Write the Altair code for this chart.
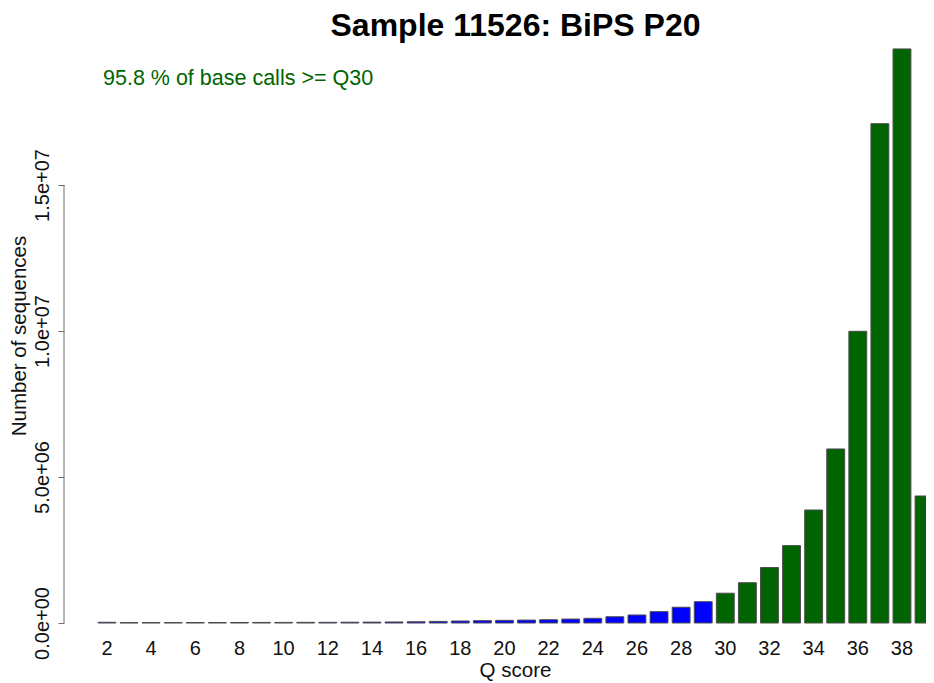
import altair as alt
import pandas as pd

# ---- data ----
q_scores = list(range(2, 40))
counts = [
    25000, 12000, 14000, 15000, 16000, 17000, 18000, 19000, 20000, 22000,
    24000, 27000, 30000, 35000, 42000, 55000, 68000, 80000, 90000, 100000,
    112000, 135000, 160000, 215000, 275000, 390000, 540000, 730000,
    1020000, 1380000, 1900000, 2650000, 3870000, 5960000, 9990000,
    17100000, 19660000, 4350000,
]
groups = ["< Q30" if q < 30 else ">= Q30" for q in q_scores]
group_domain = ["< Q30", ">= Q30"]
group_colors = ["#0000ff", "#006400"]

x_tick_values = list(range(2, 40, 2))
y_tick_values = [0, 5000000, 10000000, 15000000]
y_tick_labels = ["0.0e+00", "5.0e+06", "1.0e+07", "1.5e+07"]

title_text = "Sample 11526: BiPS P20"
note_text = "95.8 % of base calls >= Q30"
x_title = "Q score"
y_title = "Number of sequences"

FONT = "Liberation Sans"
W, H = 828, 584
X_RANGE = 835  # bars continue past the right edge, as in the cropped reference

df = pd.DataFrame({"Q": q_scores, "count": counts, "group": groups})

label_expr = " : ".join(
    f"datum.value == {v} ? '{l}'" for v, l in zip(y_tick_values[:-1], y_tick_labels[:-1])
) + f" : '{y_tick_labels[-1]}'"

yscale = alt.Scale(domain=[0, 20000000], nice=False, zero=True)

bars = alt.Chart(df).mark_bar(stroke="#4d4d4d", strokeWidth=1).encode(
    x=alt.X(
        "Q:O",
        scale=alt.Scale(paddingInner=0.19, paddingOuter=0, range=[0, X_RANGE]),
        axis=alt.Axis(
            values=x_tick_values, labelAngle=0, ticks=False, tickSize=0,
            domain=False, labelFontSize=20, labelFont=FONT, labelColor="#111",
            labelPadding=31, labelBaseline="alphabetic", title=None,
        ),
    ),
    y=alt.Y(
        "count:Q",
        scale=yscale,
        axis=alt.Axis(
            values=y_tick_values, labelExpr=label_expr, labelAngle=270,
            labelAlign="center", labelBaseline="alphabetic", labelFontSize=20,
            labelFont=FONT, labelColor="#111", tickSize=6, tickColor="#6e6e6e",
            domain=False, grid=False, offset=34, labelPadding=10, title=None,
            labelFlush=False, labelOverlap=False,
        ),
    ),
    color=alt.Color("group:N", scale=alt.Scale(domain=group_domain, range=group_colors), legend=None),
)

axis_line = alt.Chart(pd.DataFrame({"y": [y_tick_values[0]], "y2": [y_tick_values[-1]]})).mark_rule(
    color="#6e6e6e", strokeWidth=1
).encode(x=alt.value(-34), y=alt.Y("y:Q", scale=yscale), y2="y2:Q")

title = alt.Chart(pd.DataFrame({"t": [title_text]})).mark_text(
    align="center", baseline="alphabetic", fontSize=32, font=FONT, fontWeight="bold", color="black"
).encode(text="t:N", x=alt.value(X_RANGE / 2), y=alt.value(-3))

note = alt.Chart(pd.DataFrame({"t": [note_text]})).mark_text(
    align="left", baseline="alphabetic", fontSize=21.5, font=FONT, color="#006400"
).encode(text="t:N", x=alt.value(5), y=alt.value(46))

ytitle = alt.Chart(pd.DataFrame({"t": [y_title]})).mark_text(
    align="center", baseline="alphabetic", fontSize=20.5, font=FONT, color="#111", angle=270
).encode(text="t:N", x=alt.value(-72), y=alt.value(297))

xtitle = alt.Chart(pd.DataFrame({"t": [x_title]})).mark_text(
    align="center", baseline="alphabetic", fontSize=20.5, font=FONT, color="#111"
).encode(text="t:N", x=alt.value(X_RANGE / 2), y=alt.value(H + 54))

chart = alt.layer(bars, axis_line, title, note, ytitle, xtitle).properties(
    width=W,
    height=H,
    padding={"left": 90, "top": 31, "right": 0, "bottom": 60},
    autosize=alt.AutoSizeParams(type="none"),
    background="white",
).configure_view(stroke=None)

chart.save("out.html", embed_options={"renderer": "svg", "actions": False})
